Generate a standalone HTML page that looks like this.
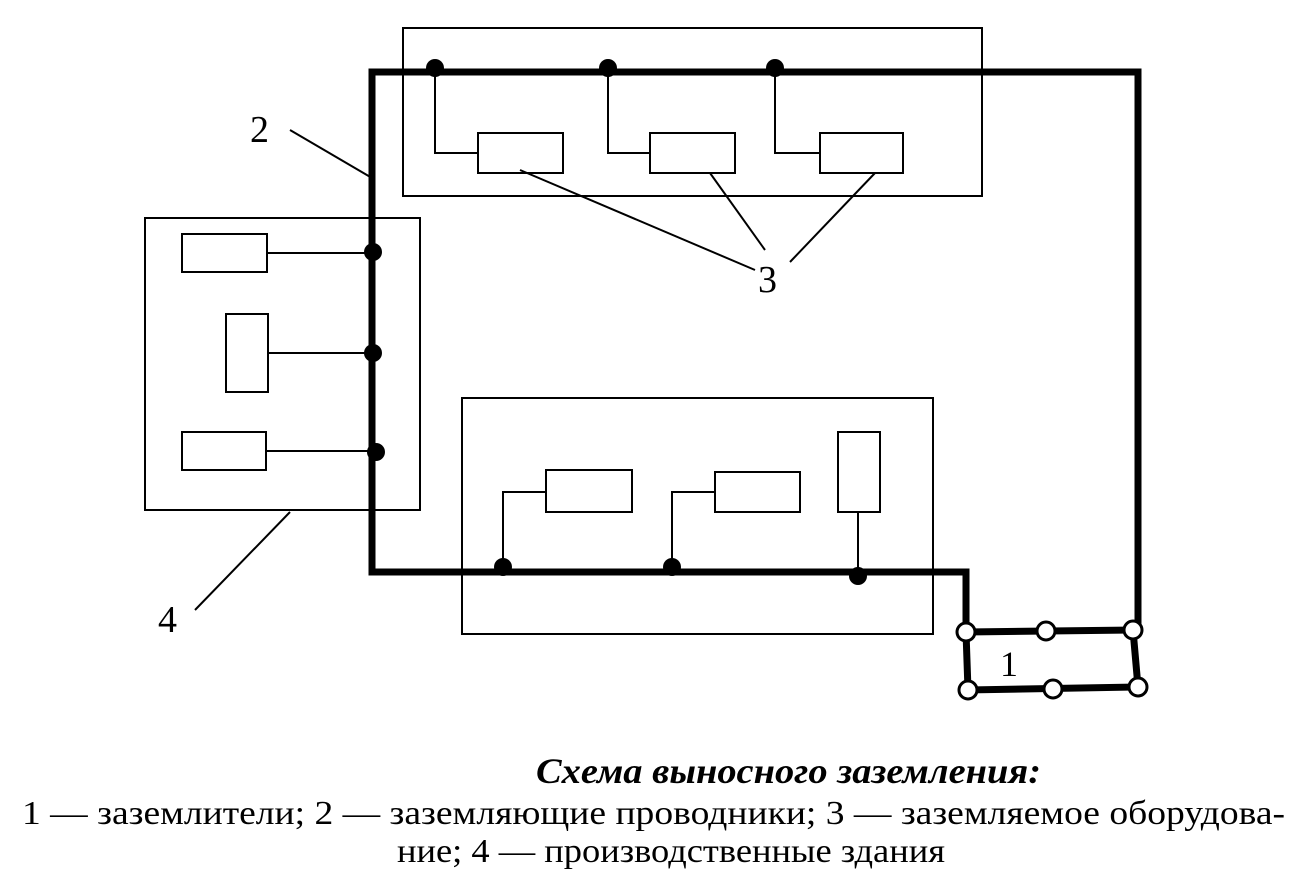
<!DOCTYPE html>
<html><head><meta charset="utf-8"><style>html,body{margin:0;padding:0;background:#fff}</style></head>
<body>
<svg width="1308" height="880" viewBox="0 0 1308 880" xmlns="http://www.w3.org/2000/svg">
<g fill="none" stroke="#000" stroke-width="2">
<rect x="403" y="28" width="579" height="168"/>
<rect x="145" y="218" width="275" height="292"/>
<rect x="462" y="398" width="471" height="236"/>
<rect x="478" y="133" width="85" height="40"/>
<rect x="650" y="133" width="85" height="40"/>
<rect x="820" y="133" width="83" height="40"/>
<rect x="182" y="234" width="85" height="38"/>
<rect x="226" y="314" width="42" height="78"/>
<rect x="182" y="432" width="84" height="38"/>
<rect x="546" y="470" width="86" height="42"/>
<rect x="715" y="472" width="85" height="40"/>
<rect x="838" y="432" width="42" height="80"/>
<polyline points="435,68 435,153 478,153"/>
<polyline points="608,68 608,153 650,153"/>
<polyline points="775,68 775,153 820,153"/>
<line x1="267" y1="253" x2="373" y2="253"/>
<line x1="268" y1="353" x2="373" y2="353"/>
<line x1="266" y1="451" x2="376" y2="451"/>
<polyline points="503,567 503,492 546,492"/>
<polyline points="672,567 672,492 715,492"/>
<line x1="858" y1="576" x2="858" y2="512"/>
<line x1="290" y1="130" x2="372" y2="178"/>
<line x1="520" y1="170" x2="755" y2="270"/>
<line x1="710" y1="173" x2="765" y2="250"/>
<line x1="875" y1="173" x2="790" y2="262"/>
<line x1="195" y1="610" x2="290" y2="512"/>
</g>
<g fill="none" stroke="#000" stroke-width="7">
<polyline points="1138,630 1138,72 372,72 372,572 966,572 966,632"/>
<polyline points="966,632 1133,630 1138,687 968,690 966,632"/>
</g>
<g fill="#000">
<circle cx="435" cy="68" r="9"/><circle cx="608" cy="68" r="9"/><circle cx="775" cy="68" r="9"/>
<circle cx="373" cy="252" r="9"/><circle cx="373" cy="353" r="9"/><circle cx="376" cy="452" r="9"/>
<circle cx="503" cy="567" r="9"/><circle cx="672" cy="567" r="9"/><circle cx="858" cy="576" r="9"/>
</g>
<g fill="#fff" stroke="#000" stroke-width="3">
<circle cx="966" cy="632" r="9"/><circle cx="1046" cy="631" r="9"/><circle cx="1133" cy="630" r="9"/>
<circle cx="968" cy="690" r="9"/><circle cx="1053" cy="689" r="9"/><circle cx="1138" cy="687" r="9"/>
</g>
<g font-family="Liberation Serif, serif" fill="#000">
<text x="250" y="142" font-size="38">2</text>
<text x="758" y="292" font-size="38">3</text>
<text x="158" y="632" font-size="38">4</text>
<text x="1000" y="676" font-size="36">1</text>
<text x="536" y="783" font-size="36" font-weight="bold" font-style="italic" textLength="505" lengthAdjust="spacingAndGlyphs">Схема выносного заземления:</text>
<text x="22" y="824" font-size="34" textLength="1263" lengthAdjust="spacingAndGlyphs">1 — заземлители; 2 — заземляющие проводники; 3 — заземляемое оборудова-</text>
<text x="397" y="862" font-size="34" textLength="548" lengthAdjust="spacingAndGlyphs">ние; 4 — производственные здания</text>
</g>
</svg>
</body></html>
